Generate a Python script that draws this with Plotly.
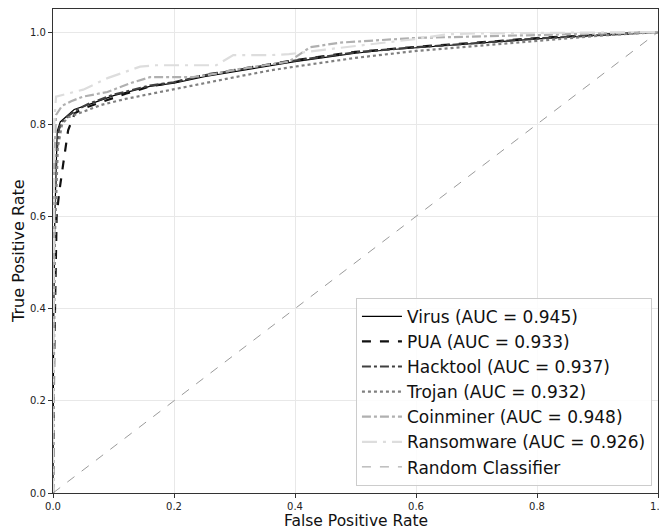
import plotly.graph_objects as go

virus_fpr = [0, 0.001, 0.003, 0.005, 0.007, 0.012, 0.02, 0.035, 0.06, 0.1, 0.16, 0.2, 0.25, 0.3, 0.36, 0.4, 0.45, 0.5, 0.55, 0.6, 0.7, 0.8, 0.9, 1.0]
virus_tpr = [0, 0.35, 0.6, 0.72, 0.785, 0.805, 0.815, 0.832, 0.843, 0.862, 0.882, 0.889, 0.903, 0.914, 0.927, 0.936, 0.945, 0.954, 0.961, 0.966, 0.975, 0.985, 0.993, 1.0]

pua_fpr = [0, 0.002, 0.006, 0.01, 0.017, 0.025, 0.036, 0.05, 0.08, 0.12, 0.16, 0.2, 0.25, 0.3, 0.36, 0.4, 0.5, 0.6, 0.7, 0.8, 0.9, 1.0]
pua_tpr = [0, 0.3, 0.6, 0.65, 0.715, 0.787, 0.824, 0.834, 0.848, 0.866, 0.882, 0.891, 0.907, 0.918, 0.93, 0.939, 0.957, 0.968, 0.977, 0.987, 0.994, 1.0]

hack_fpr = [0, 0.001, 0.003, 0.006, 0.01, 0.015, 0.025, 0.04, 0.06, 0.1, 0.16, 0.2, 0.25, 0.3, 0.36, 0.4, 0.5, 0.6, 0.7, 0.8, 0.9, 1.0]
hack_tpr = [0, 0.4, 0.62, 0.74, 0.79, 0.805, 0.818, 0.832, 0.845, 0.864, 0.884, 0.891, 0.906, 0.917, 0.929, 0.938, 0.956, 0.967, 0.976, 0.986, 0.993, 1.0]

trojan_fpr = [0, 0.001, 0.003, 0.008, 0.015, 0.025, 0.05, 0.08, 0.12, 0.16, 0.2, 0.25, 0.3, 0.36, 0.4, 0.5, 0.6, 0.7, 0.8, 0.9, 1.0]
trojan_tpr = [0, 0.3, 0.55, 0.75, 0.8, 0.815, 0.828, 0.842, 0.855, 0.865, 0.875, 0.889, 0.902, 0.917, 0.925, 0.944, 0.959, 0.97, 0.982, 0.992, 1.0]

coin_fpr = [0, 0.001, 0.002, 0.005, 0.015, 0.03, 0.05, 0.09, 0.13, 0.16, 0.23, 0.27, 0.3, 0.35, 0.39, 0.425, 0.474, 0.595, 0.7, 0.8, 0.9, 1.0]
coin_tpr = [0, 0.5, 0.72, 0.82, 0.84, 0.85, 0.86, 0.87, 0.89, 0.902, 0.902, 0.91, 0.918, 0.928, 0.936, 0.967, 0.977, 0.987, 0.99, 0.993, 0.997, 1.0]

ransom_fpr = [0, 0.001, 0.002, 0.005, 0.02, 0.05, 0.09, 0.144, 0.17, 0.27, 0.298, 0.36, 0.39, 0.45, 0.6, 0.65, 0.7, 0.8, 0.9, 1.0]
ransom_tpr = [0, 0.6, 0.8, 0.86, 0.865, 0.875, 0.9, 0.925, 0.928, 0.928, 0.95, 0.95, 0.952, 0.962, 0.985, 0.995, 0.997, 0.998, 1.0, 1.0]

random_x = [0, 1]
random_y = [0, 1]

series = [
    ("Virus (AUC = 0.945)", virus_fpr, virus_tpr, "#000000", 1.2, "solid"),
    ("PUA (AUC = 0.933)", pua_fpr, pua_tpr, "#111111", 2.2, "dash"),
    ("Hacktool (AUC = 0.937)", hack_fpr, hack_tpr, "#404040", 2.2, "dashdot"),
    ("Trojan (AUC = 0.932)", trojan_fpr, trojan_tpr, "#808080", 2.2, "dot"),
    ("Coinminer (AUC = 0.948)", coin_fpr, coin_tpr, "#b0b0b0", 2.2, "dashdot"),
    ("Ransomware (AUC = 0.926)", ransom_fpr, ransom_tpr, "#dddddd", 2.2, "longdashdot"),
]

fig = go.Figure()
for name, x, y, c, w, d in series:
    fig.add_trace(go.Scatter(x=x, y=y, mode="lines", name=name,
                             line=dict(color=c, width=w, dash=d)))
fig.add_trace(go.Scatter(x=random_x, y=random_y, mode="lines", name="Random Classifier",
                         line=dict(color="#808080", width=0.8, dash="dash")))

axis_common = dict(
    showgrid=True, gridcolor="#e8e8e8", gridwidth=1,
    showline=True, linecolor="#333333", linewidth=1.2, mirror=True,
    ticks="outside", ticklen=4, tickcolor="#333333",
    tickfont=dict(size=10, color="#222222"),
    zeroline=False, dtick=0.2, tickformat=".1f", automargin=False,
)

# page body has an 8px margin: figure is sized so the plot area lands at x 53..658, y 9..493
fig.update_layout(
    width=659, height=521,
    margin=dict(l=45, r=9, t=1, b=36),
    paper_bgcolor="white", plot_bgcolor="white",
    font=dict(family="DejaVu Sans", color="#111111"),
    xaxis=dict(range=[0, 1], **axis_common),
    yaxis=dict(range=[0, 1.05], **axis_common),
    legend=dict(x=0.99, y=0.015, xanchor="right", yanchor="bottom",
                bgcolor="rgba(255,255,255,0.85)", bordercolor="#cccccc", borderwidth=1,
                font=dict(size=17, color="#111111"), itemwidth=40,
                tracegroupgap=0),
    showlegend=True,
    annotations=[
        dict(text="False Positive Rate", xref="paper", yref="paper", x=0.5, y=-0.057,
             xanchor="center", yanchor="middle", showarrow=False, font=dict(size=15.5)),
        dict(text="True Positive Rate", xref="paper", yref="paper", x=-0.058, y=0.5,
             xanchor="center", yanchor="middle", showarrow=False, textangle=-90,
             font=dict(size=16)),
    ],
)

fig.write_html("out.html")
